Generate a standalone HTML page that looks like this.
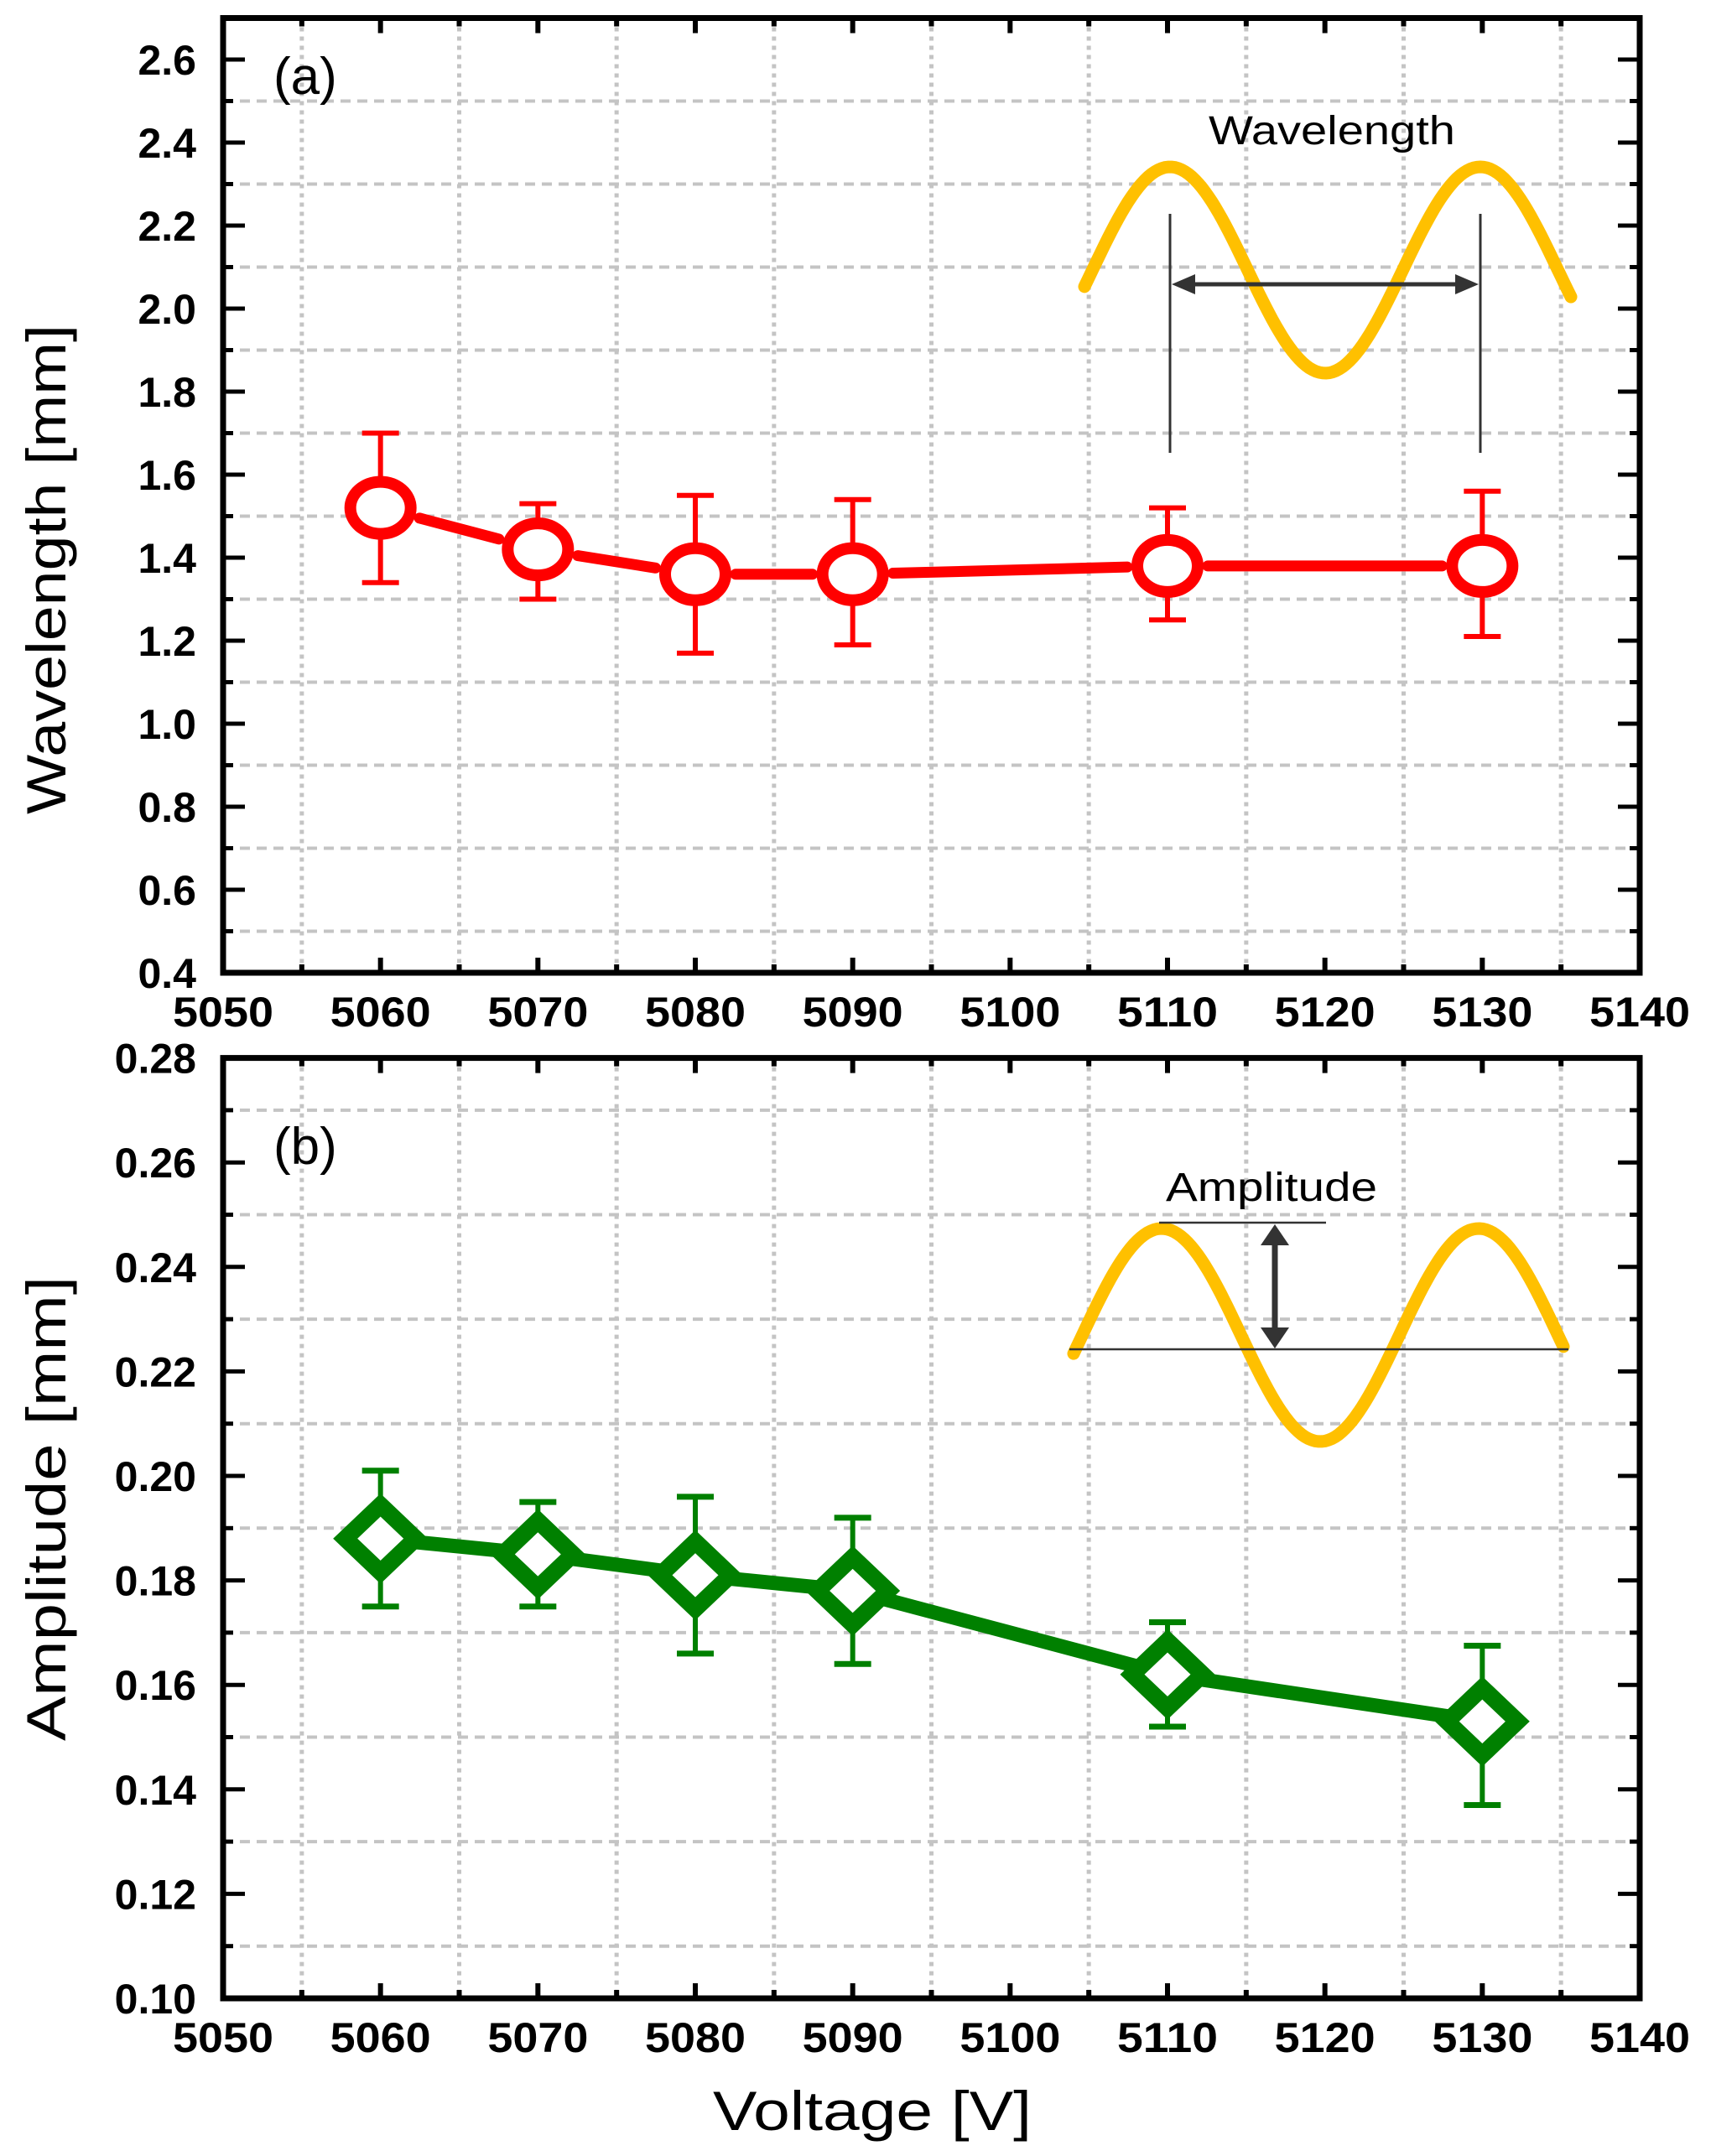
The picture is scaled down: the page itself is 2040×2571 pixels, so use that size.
<!DOCTYPE html>
<html><head><meta charset="utf-8">
<style>html,body{margin:0;padding:0;background:#fff;}svg{display:block;}</style>
</head><body>
<svg id="s" xmlns="http://www.w3.org/2000/svg" width="2040" height="2571" viewBox="0 0 2040 2571">
<rect width="2040" height="2571" fill="#fff"/>
</svg>
<script>
(function(){
var s=document.getElementById('s');var out='';
var L=266,R=1955;
function X(v){return L+(v-5050)*(R-L)/90;}
function panel(top,bot,ymin,ymax,major,fmt,dec){
  var Y=function(v){return bot-(v-ymin)*(bot-top)/(ymax-ymin);};
  // grid
  for(var v=5055;v<5140;v+=10){var x=X(v);out+='<line x1="'+x+'" y1="'+top+'" x2="'+x+'" y2="'+bot+'" stroke="#c4c4c4" stroke-width="5" stroke-dasharray="5,6"/>';}
  var n=Math.round((ymax-ymin)/major*2);
  for(var i=1;i<n;i+=2){var y=Y(ymin+i*major/2);out+='<line x1="'+L+'" y1="'+y+'" x2="'+R+'" y2="'+y+'" stroke="#c4c4c4" stroke-width="4" stroke-dasharray="12,8"/>';}
  // ticks
  for(var i=0;i<=n;i++){var y=Y(ymin+i*major/2);var len=(i%2==0)?26:12;
    out+='<line x1="'+L+'" y1="'+y+'" x2="'+(L+len)+'" y2="'+y+'" stroke="#000" stroke-width="5"/>';
    out+='<line x1="'+R+'" y1="'+y+'" x2="'+(R-len)+'" y2="'+y+'" stroke="#000" stroke-width="5"/>';
    if(i%2==0){out+='<text x="234" y="'+(y+18)+'" text-anchor="end" font-family="Liberation Sans,sans-serif" font-weight="bold" font-size="50">'+(ymin+i*major/2).toFixed(dec)+'</text>';}
  }
  for(var v=5050;v<=5140;v+=5){var x=X(v);var len=(v%10==0)?18:10;
    out+='<line x1="'+x+'" y1="'+top+'" x2="'+x+'" y2="'+(top+len)+'" stroke="#000" stroke-width="6"/>';
    out+='<line x1="'+x+'" y1="'+bot+'" x2="'+x+'" y2="'+(bot-len)+'" stroke="#000" stroke-width="6"/>';
    if(v%10==0){out+='<text x="'+x+'" y="'+(bot+64)+'" text-anchor="middle" font-family="Liberation Sans,sans-serif" font-weight="bold" font-size="50" textLength="120" lengthAdjust="spacingAndGlyphs">'+v+'</text>';}
  }
  out+='<rect x="'+L+'" y="'+top+'" width="'+(R-L)+'" height="'+(bot-top)+'" fill="none" stroke="#000" stroke-width="7"/>';
  return Y;
}
var Ya=panel(21.5,1160,0.4,2.7,0.2,0,1);
var Yb=panel(1261.6,2383,0.10,0.28,0.02,0,2);
// sine inset a
function sine(x0,x1,px,cy,amp,per){var d='';for(var x=x0;x<=x1;x+=4){var y=cy-amp*Math.cos(2*Math.PI*(x-px)/per);d+=(d?'L':'M')+x.toFixed(1)+','+y.toFixed(1);}
  return '<path d="'+d+'" fill="none" stroke="#FFC000" stroke-width="15" stroke-linecap="round"/>';}
out+=sine(1293,1873,1395,322,123,370);
out+='<line x1="1395" y1="255" x2="1395" y2="540" stroke="#333" stroke-width="3"/><line x1="1765" y1="255" x2="1765" y2="540" stroke="#333" stroke-width="3"/>';
out+='<line x1="1415" y1="339" x2="1745" y2="339" stroke="#333" stroke-width="5"/>';
out+='<polygon points="1397,339 1425,327 1425,351" fill="#333"/><polygon points="1763,339 1735,327 1735,351" fill="#333"/>';
out+='<text x="1441" y="172" font-family="Liberation Sans,sans-serif" font-size="48" textLength="294" lengthAdjust="spacingAndGlyphs">Wavelength</text>';
// inset b
out+=sine(1280,1865,1385,1592,127,378);
out+='<line x1="1275" y1="1609" x2="1870" y2="1609" stroke="#333" stroke-width="2.5"/><line x1="1382" y1="1458" x2="1581" y2="1458" stroke="#333" stroke-width="2.5"/>';
out+='<line x1="1520" y1="1478" x2="1520" y2="1590" stroke="#333" stroke-width="7"/>';
out+='<polygon points="1520,1460 1503,1485 1537,1485" fill="#333"/><polygon points="1520,1608 1503,1583 1537,1583" fill="#333"/>';
out+='<text x="1390" y="1432" font-family="Liberation Sans,sans-serif" font-size="48" textLength="252" lengthAdjust="spacingAndGlyphs">Amplitude</text>';
// data a
var da=[[5060,1.52,1.34,1.70],[5070,1.42,1.30,1.53],[5080,1.36,1.17,1.55],[5090,1.36,1.19,1.54],[5110,1.38,1.25,1.52],[5130,1.38,1.21,1.56]];
for(var i=0;i<da.length-1;i++){var x1=X(da[i][0]),y1=Ya(da[i][1]),x2=X(da[i+1][0]),y2=Ya(da[i+1][1]);
  var dx=x2-x1,dy=y2-y1,l=Math.sqrt(dx*dx+dy*dy),g=48;
  out+='<line x1="'+(x1+dx*g/l)+'" y1="'+(y1+dy*g/l)+'" x2="'+(x2-dx*g/l)+'" y2="'+(y2-dy*g/l)+'" stroke="#f00" stroke-width="13" stroke-linecap="round"/>';}
da.forEach(function(d){var x=X(d[0]);
  out+='<line x1="'+x+'" y1="'+Ya(d[2])+'" x2="'+x+'" y2="'+Ya(d[3])+'" stroke="#f00" stroke-width="6"/>';
  out+='<line x1="'+(x-22)+'" y1="'+Ya(d[2])+'" x2="'+(x+22)+'" y2="'+Ya(d[2])+'" stroke="#f00" stroke-width="6"/>';
  out+='<line x1="'+(x-22)+'" y1="'+Ya(d[3])+'" x2="'+(x+22)+'" y2="'+Ya(d[3])+'" stroke="#f00" stroke-width="6"/>';
  out+='<ellipse cx="'+x+'" cy="'+Ya(d[1])+'" rx="36" ry="31" fill="#fff" stroke="#f00" stroke-width="14"/>';});
// data b
var db=[[5060,0.188,0.175,0.201],[5070,0.185,0.175,0.195],[5080,0.181,0.166,0.196],[5090,0.178,0.164,0.192],[5110,0.162,0.152,0.172],[5130,0.153,0.137,0.1675]];
var p='';db.forEach(function(d,i){p+=(i?'L':'M')+X(d[0])+','+Yb(d[1]);});
out+='<path d="'+p+'" fill="none" stroke="#008000" stroke-width="17"/>';
db.forEach(function(d){var x=X(d[0]),y=Yb(d[1]);
  out+='<line x1="'+x+'" y1="'+Yb(d[2])+'" x2="'+x+'" y2="'+Yb(d[3])+'" stroke="#008000" stroke-width="6"/>';
  out+='<line x1="'+(x-22)+'" y1="'+Yb(d[2])+'" x2="'+(x+22)+'" y2="'+Yb(d[2])+'" stroke="#008000" stroke-width="7"/>';
  out+='<line x1="'+(x-22)+'" y1="'+Yb(d[3])+'" x2="'+(x+22)+'" y2="'+Yb(d[3])+'" stroke="#008000" stroke-width="7"/>';
  out+='<polygon points="'+x+','+(y-40)+' '+(x+42)+','+y+' '+x+','+(y+40)+' '+(x-42)+','+y+'" fill="#fff" stroke="#008000" stroke-width="20" stroke-linejoin="miter"/>';});
// labels
out+='<text x="326" y="112" font-family="Liberation Sans,sans-serif" font-size="62">(a)</text>';
out+='<text x="326" y="1388" font-family="Liberation Sans,sans-serif" font-size="62">(b)</text>';
out+='<text transform="translate(78,679) rotate(-90)" text-anchor="middle" font-family="Liberation Sans,sans-serif" font-size="66" textLength="584" lengthAdjust="spacingAndGlyphs">Wavelength [mm]</text>';
out+='<text transform="translate(78,1799) rotate(-90)" text-anchor="middle" font-family="Liberation Sans,sans-serif" font-size="66" textLength="554" lengthAdjust="spacingAndGlyphs">Amplitude  [mm]</text>';
out+='<text x="1040" y="2540" text-anchor="middle" font-family="Liberation Sans,sans-serif" font-size="66" textLength="380" lengthAdjust="spacingAndGlyphs">Voltage  [V]</text>';
s.insertAdjacentHTML('beforeend',out);
})();
</script>
</body></html>
